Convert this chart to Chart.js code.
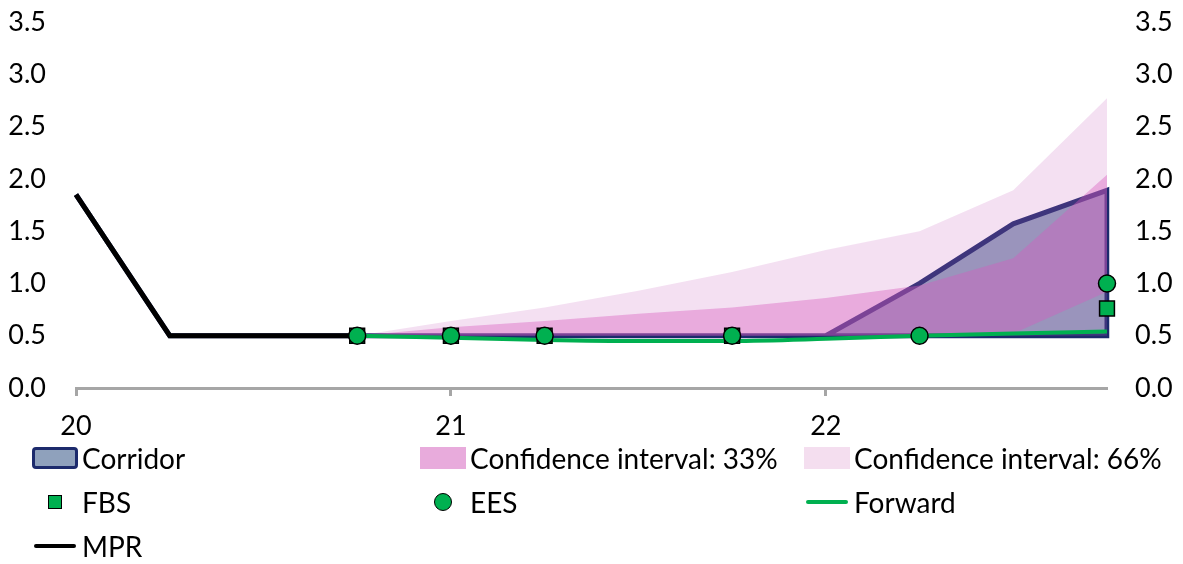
<!DOCTYPE html>
<html lang="en">
<head>
  <meta charset="UTF-8">
  <title>Corridor</title>
  <script src="https://cdn.jsdelivr.net/npm/chart.js"></script>
  <style>
    html, body {
      margin: 0;
      padding: 0;
      background: #fff;
    }
    body {
      width: 1183px;
      height: 564px;
      position: relative;
      overflow: hidden;
      font-family: Lato, "Noto Sans", sans-serif;
    }
    #wrap {
      position: absolute;
      left: 0;
      top: 0;
      width: 1183px;
      height: 445px;
    }
    #legend {
      position: absolute;
      left: 32px;
      top: 436px;
      display: grid;
      grid-template-columns: 388px 384px 360px;
      grid-auto-rows: 44px;
      font-size: 28px;
      color: #000;
    }
    .item {
      display: flex;
      align-items: center;
    }
    .key {
      width: 46px;
      height: 22px;
      margin-right: 4px;
      box-sizing: border-box;
      position: relative;
      flex-shrink: 0;
    }
  </style>
</head>
<body>

<div id="wrap"><canvas id="chart"></canvas></div>
<div id="legend"></div>

<script>
  // quarters 20Q1 .. 22Q4, year labels on Q1
  const quarters = ['20Q1', '20Q2', '20Q3', '20Q4', '21Q1', '21Q2', '21Q3', '21Q4', '22Q1', '22Q2', '22Q3', '22Q4'];
  const yearLabels = ['20', '21', '22'];

  const mpr          = [1.85, 0.5, 0.5, 0.5, null, null, null, null, null, null, null, null];
  const corridorLow  = [1.85, 0.5, 0.5, 0.5, 0.5, 0.5, 0.5, 0.5, 0.5, 0.5, 0.5, 0.5];
  const corridorHigh = [1.85, 0.5, 0.5, 0.5, 0.5, 0.5, 0.5, 0.5, 0.5, 1.0, 1.57, 1.89];
  const ci33Low      = [null, null, null, 0.5, 0.5, 0.5, 0.5, 0.5, 0.5, 0.5, 0.52, 0.92];
  const ci33High     = [null, null, null, 0.5, 0.58, 0.64, 0.71, 0.77, 0.86, 0.98, 1.24, 2.04];
  const ci66Low      = [null, null, null, 0.5, 0.5, 0.5, 0.5, 0.5, 0.5, 0.5, 0.5, 0.5];
  const ci66High     = [null, null, null, 0.5, 0.64, 0.77, 0.93, 1.11, 1.32, 1.5, 1.89, 2.77];
  const forward      = [null, null, null, 0.5, 0.48, 0.46, 0.45, 0.45, 0.47, 0.5, 0.52, 0.54];
  const fbs          = [null, null, null, 0.5, 0.5, 0.5, null, 0.5, null, null, null, 0.76];
  const ees          = [null, null, null, 0.5, 0.5, 0.5, null, 0.5, null, 0.5, null, 1.0];

  const NAVY = '#1c2a6c';
  const GREEN = '#00b050';
  const AXIS_GREY = '#a6a6a6';
  const FONT = 'Lato, "Noto Sans", sans-serif';

  // corridor drawn as one closed shape: along the top, back along the bottom
  const corridorShape = quarters.map((q, i) => ({x: q, y: corridorHigh[i]}))
    .concat(quarters.map((q, i) => ({x: q, y: corridorLow[i]})).reverse());
  corridorShape.push(corridorShape[0]);

  const plain = {pointRadius: 0, pointHoverRadius: 0, tension: 0};

  const datasets = [
    {label: 'Corridor', data: corridorShape, order: 8, fill: 'shape',
      borderColor: NAVY, borderWidth: 5, backgroundColor: 'rgb(143,161,188)', ...plain},
    {label: 'ci66low', data: ci66Low, order: 7, borderWidth: 0, fill: false, ...plain},
    {label: 'Confidence interval: 66%', data: ci66High, order: 6, borderWidth: 0,
      fill: 1, backgroundColor: 'rgba(200,100,190,0.2)', ...plain},
    {label: 'ci33low', data: ci33Low, order: 5, borderWidth: 0, fill: false, ...plain},
    {label: 'Confidence interval: 33%', data: ci33High, order: 4, borderWidth: 0,
      fill: 3, backgroundColor: 'rgba(216,89,190,0.4)', ...plain},
    {label: 'Forward', data: forward, order: 3, borderColor: GREEN, borderWidth: 4,
      fill: false, pointRadius: 0, cubicInterpolationMode: 'monotone'},
    {label: 'MPR', data: mpr, order: 2, borderColor: '#000', borderWidth: 5, fill: false, ...plain},
    {label: 'FBS', data: fbs, order: 1, showLine: false, pointStyle: 'rect', pointRadius: 10.5,
      pointBackgroundColor: GREEN, pointBorderColor: '#000', pointBorderWidth: 1.5},
    {label: 'EES', data: ees, order: 0, showLine: false, pointStyle: 'circle', pointRadius: 8.5,
      pointBackgroundColor: GREEN, pointBorderColor: '#000', pointBorderWidth: 1.5}
  ];

  const tickFont = {family: FONT, size: 27};
  const yTicks = {
    font: tickFont, color: '#000', stepSize: 0.5,
    callback: v => v.toFixed(1)
  };
  // fixed axis widths so the plot sits where the original's does
  const fitY = s => { s.width = 76; s.paddingTop = 0; s.paddingBottom = 0; };

  new Chart(document.getElementById('chart'), {
    type: 'line',
    data: {labels: quarters, datasets: datasets},
    options: {
      responsive: true,
      maintainAspectRatio: false,
      animation: false,
      layout: {padding: {top: 22, left: 0, right: 0, bottom: 0}},
      plugins: {legend: {display: false}, tooltip: {enabled: false}},
      spanGaps: false,
      scales: {
        x: {
          type: 'category',
          offset: false,
          grid: {
            drawOnChartArea: false,
            tickLength: 8,
            tickWidth: 3,
            tickColor: ctx => ctx.index % 4 === 0 ? AXIS_GREY : 'rgba(0,0,0,0)'
          },
          border: {color: AXIS_GREY, width: 3},
          ticks: {
            font: tickFont, color: '#000', autoSkip: false, maxRotation: 0, padding: 14,
            callback: (v, i) => i % 4 === 0 ? yearLabels[i / 4] : ''
          },
          afterFit: s => { s.height = 57; }
        },
        y: {
          position: 'left', min: 0, max: 3.5,
          grid: {display: false, drawTicks: false},
          border: {display: false},
          ticks: {...yTicks, padding: 30},
          afterFit: fitY
        },
        y2: {
          position: 'right', min: 0, max: 3.5,
          grid: {display: false, drawTicks: false},
          border: {display: false},
          ticks: {...yTicks, padding: 28},
          afterFit: fitY
        }
      }
    }
  });

  // legend laid out in three columns like the original
  const legendKeys = [
    ['Corridor', 'background:rgb(143,161,188);border:3px solid ' + NAVY + ';border-radius:4px;'],
    ['Confidence interval: 33%', 'background:#e8abdc;'],
    ['Confidence interval: 66%', 'background:#f4deef;'],
    ['FBS', 'marker-rect'],
    ['EES', 'marker-circle'],
    ['Forward', 'line:' + GREEN],
    ['MPR', 'line:#000']
  ];
  const legend = document.getElementById('legend');
  legendKeys.forEach(([label, style]) => {
    const item = document.createElement('div');
    item.className = 'item';
    const key = document.createElement('div');
    key.className = 'key';
    if (style === 'marker-rect' || style === 'marker-circle') {
      const m = document.createElement('div');
      const round = style === 'marker-circle';
      m.style.cssText = 'position:absolute;left:50%;top:50%;box-sizing:border-box;border:1.5px solid #000;background:' + GREEN + ';' +
        (round ? 'width:18px;height:18px;margin:-9px 0 0 -9px;border-radius:50%;' : 'width:14px;height:14px;margin:-7px 0 0 -7px;');
      key.appendChild(m);
    } else if (style.startsWith('line:')) {
      const l = document.createElement('div');
      l.style.cssText = 'position:absolute;left:2px;right:2px;top:9px;height:4px;border-radius:2px;background:' + style.slice(5) + ';';
      key.appendChild(l);
    } else {
      key.style.cssText = style;
    }
    const text = document.createElement('span');
    text.textContent = label;
    item.appendChild(key);
    item.appendChild(text);
    legend.appendChild(item);
  });
</script>

</body>
</html>
